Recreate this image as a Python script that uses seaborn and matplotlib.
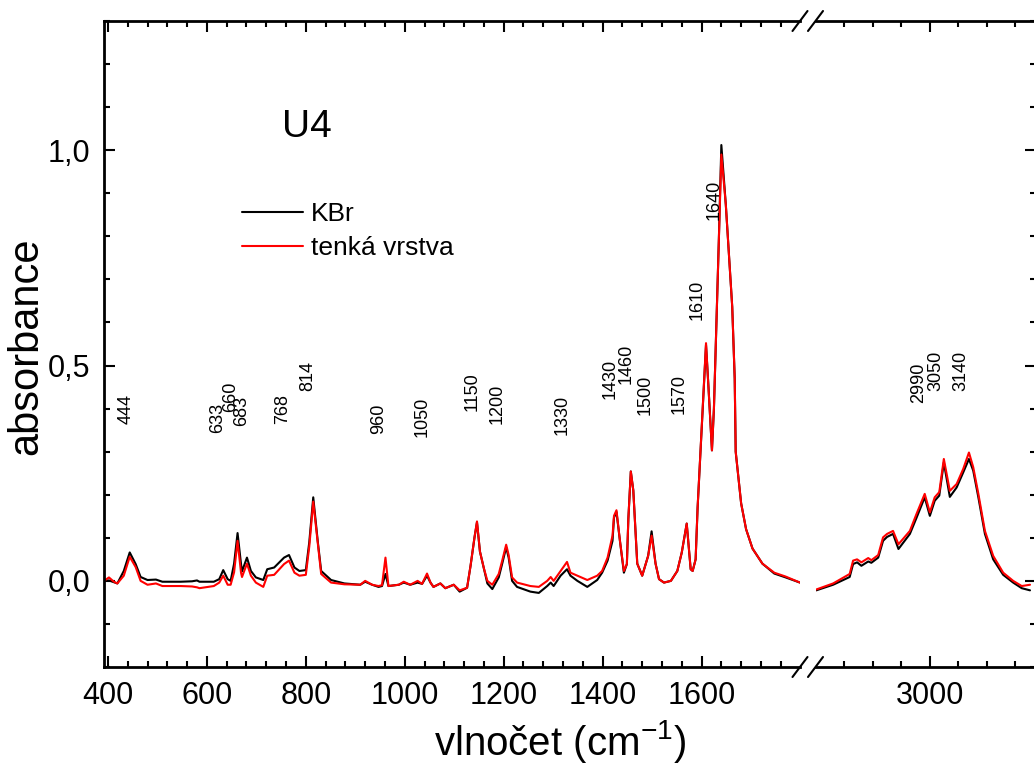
import numpy as np
import pandas as pd
import matplotlib.pyplot as plt
import seaborn as sns
from matplotlib.ticker import MultipleLocator, FuncFormatter

sns.set_style("ticks")
plt.rcParams["font.family"] = ["Liberation Sans", "DejaVu Sans"]
plt.rcParams["mathtext.fontset"] = "custom"
plt.rcParams["mathtext.rm"] = "Liberation Sans"
plt.rcParams["mathtext.default"] = "regular"
for key in ("text.color", "axes.labelcolor", "xtick.color", "ytick.color", "axes.edgecolor"):
    plt.rcParams[key] = "black"

# --- spektra, cast 400-1800 cm-1 ---
wn_left = [392, 402, 412, 419, 432, 444, 456, 466, 480, 497, 510, 547, 570, 580, 585,
           614, 625, 633, 642, 648, 655, 662, 669, 671, 681, 689, 699, 714, 722, 736,
           756, 766, 777, 787, 800, 807, 815, 824, 831, 851, 878, 910, 920, 934, 947,
           954, 961, 967, 988, 998, 1011, 1026, 1035, 1045, 1052, 1058, 1072, 1082, 1099, 1111,
           1126, 1133, 1141, 1146, 1152, 1160, 1167, 1177, 1190, 1197, 1205, 1210, 1217, 1227, 1254,
           1271, 1288, 1295, 1301, 1315, 1328, 1335, 1349, 1369, 1389, 1399, 1410, 1420, 1423, 1428,
           1435, 1443, 1449, 1452, 1457, 1462, 1470, 1480, 1492, 1499, 1507, 1514, 1524, 1538, 1551,
           1560, 1570, 1578, 1582, 1588, 1592, 1596, 1602, 1609, 1614, 1621, 1625, 1635, 1640, 1649,
           1662, 1667, 1669, 1680, 1690, 1703, 1723, 1747, 1770, 1799]
kbr_left = [0.000, 0.001, -0.003, -0.006, 0.023, 0.066, 0.039, 0.009, 0.002, 0.003, -0.002, -0.002, -0.001, 0.001, -0.002,
            -0.002, 0.004, 0.025, 0.004, 0.000, 0.040, 0.111, 0.039, 0.022, 0.054, 0.023, 0.008, 0.002, 0.027, 0.031,
            0.054, 0.060, 0.031, 0.023, 0.025, 0.090, 0.194, 0.093, 0.023, 0.002, -0.006, -0.009, -0.002, -0.009, -0.014,
            -0.012, 0.016, -0.012, -0.009, -0.004, -0.009, -0.004, -0.007, 0.012, -0.004, -0.014, -0.006, -0.017, -0.009, -0.025,
            -0.016, 0.035, 0.101, 0.136, 0.068, 0.029, -0.006, -0.019, 0.008, 0.040, 0.078, 0.054, 0.000, -0.014, -0.025,
            -0.028, -0.012, -0.004, -0.012, 0.012, 0.027, 0.012, 0.000, -0.014, 0.002, 0.019, 0.047, 0.093, 0.147, 0.160,
            0.093, 0.019, 0.039, 0.144, 0.254, 0.210, 0.040, 0.012, 0.058, 0.115, 0.040, 0.004, -0.004, 0.000, 0.023,
            0.066, 0.133, 0.027, 0.023, 0.050, 0.170, 0.260, 0.390, 0.548, 0.450, 0.303, 0.400, 0.794, 1.012, 0.874,
            0.636, 0.470, 0.300, 0.180, 0.120, 0.075, 0.040, 0.017, 0.008, -0.004]
film_left = [0.000, 0.008, -0.002, -0.006, 0.012, 0.056, 0.032, 0.000, -0.009, -0.006, -0.012, -0.012, -0.013, -0.015, -0.017,
             -0.012, -0.004, 0.012, -0.009, -0.009, 0.020, 0.093, 0.019, 0.009, 0.040, 0.012, -0.004, -0.014, 0.012, 0.014,
             0.039, 0.047, 0.019, 0.012, 0.014, 0.080, 0.184, 0.090, 0.016, -0.004, -0.008, -0.009, 0.000, -0.009, -0.012,
             -0.010, 0.054, -0.012, -0.009, -0.002, -0.009, 0.000, -0.007, 0.017, -0.004, -0.014, -0.006, -0.017, -0.009, -0.022,
             -0.016, 0.035, 0.101, 0.138, 0.068, 0.029, 0.000, -0.009, 0.016, 0.047, 0.084, 0.060, 0.008, -0.004, -0.012,
             -0.014, 0.000, 0.009, 0.000, 0.023, 0.044, 0.019, 0.012, 0.002, 0.012, 0.023, 0.054, 0.105, 0.151, 0.164,
             0.093, 0.023, 0.039, 0.144, 0.254, 0.210, 0.040, 0.012, 0.058, 0.105, 0.040, 0.004, -0.004, 0.000, 0.023,
             0.066, 0.133, 0.027, 0.023, 0.050, 0.170, 0.260, 0.390, 0.552, 0.450, 0.303, 0.400, 0.794, 0.990, 0.874,
             0.636, 0.470, 0.300, 0.180, 0.120, 0.075, 0.040, 0.019, 0.010, -0.004]

# --- spektra, cast 2600-3370 cm-1 ---
wn_right = [2602, 2661, 2719, 2731, 2745, 2760, 2784, 2795, 2819, 2836, 2850, 2871, 2890, 2930, 2953,
            2982, 3000, 3017, 3033, 3049, 3070, 3094, 3117, 3137, 3152, 3170, 3193, 3222, 3257, 3292,
            3322, 3351]
kbr_right = [-0.022, -0.009, 0.009, 0.039, 0.043, 0.035, 0.045, 0.042, 0.054, 0.093, 0.102, 0.109, 0.074, 0.109, 0.146,
             0.194, 0.151, 0.186, 0.198, 0.275, 0.195, 0.217, 0.252, 0.283, 0.256, 0.194, 0.109, 0.050, 0.014, -0.004,
             -0.017, -0.022]
film_right = [-0.020, -0.006, 0.016, 0.047, 0.050, 0.043, 0.053, 0.048, 0.060, 0.101, 0.109, 0.116, 0.085, 0.116, 0.155,
              0.202, 0.159, 0.194, 0.206, 0.283, 0.209, 0.225, 0.260, 0.298, 0.264, 0.202, 0.116, 0.058, 0.019, 0.000,
              -0.012, -0.009]

# --- popisky pasu ---
peaks_left = ["444", "633", "660", "683", "768", "814", "960", "1050", "1150", "1200",
              "1330", "1430", "1460", "1500", "1570", "1610", "1640"]
peak_x_left = [436, 621, 647, 671, 754, 803, 947, 1036, 1137, 1187,
               1318, 1416, 1447, 1485, 1554, 1592, 1625]
peak_y_left = [0.365, 0.344, 0.391, 0.360, 0.365, 0.442, 0.342, 0.333, 0.395, 0.365,
               0.338, 0.423, 0.456, 0.384, 0.388, 0.605, 0.837]
peaks_right = ["2990", "3050", "3140"]
peak_x_right = [2961, 3021, 3110]
peak_y_right = [0.414, 0.440, 0.442]

series = ["KBr", "tenká vrstva"]
colors = {"KBr": "black", "tenká vrstva": "red"}


def long_df(wn, kbr, film):
    return pd.DataFrame({
        "wn": list(wn) + list(wn),
        "A": list(kbr) + list(film),
        "vzorek": [series[0]] * len(wn) + [series[1]] * len(wn),
    })


df_left = long_df(wn_left, kbr_left, film_left)
df_right = long_df(wn_right, kbr_right, film_right)

W, H = 1034, 765
fig = plt.figure(figsize=(W / 100, H / 100), dpi=100)
ax1 = fig.add_axes([104 / W, 98 / H, 696 / W, 646 / H])
ax2 = fig.add_axes([816 / W, 98 / H, 220 / W, 646 / H])

sns.lineplot(data=df_left, x="wn", y="A", hue="vzorek", hue_order=series, palette=colors,
             estimator=None, sort=False, lw=1.5, ax=ax1, legend=True)
sns.lineplot(data=df_right, x="wn", y="A", hue="vzorek", hue_order=series, palette=colors,
             estimator=None, sort=False, lw=1.5, ax=ax2, legend=False)

comma = FuncFormatter(lambda v, p: f"{abs(v) if abs(v) < 1e-9 else v:.1f}".replace(".", ","))

for ax in (ax1, ax2):
    ax.set_ylim(-0.2, 1.3)
    ax.yaxis.set_major_locator(MultipleLocator(0.5))
    ax.yaxis.set_minor_locator(MultipleLocator(0.1))
    ax.set_xlabel("")
    ax.set_ylabel("")
    for s in ax.spines.values():
        s.set_linewidth(2.0)
        s.set_color("black")
    ax.tick_params(which="both", direction="in", top=True, width=1.5, labelsize=22, pad=10,
                   color="black", labelcolor="black")
    ax.tick_params(which="major", length=8)
    ax.tick_params(which="minor", length=4.5)

ax1.set_xlim(392, 1799)
ax1.xaxis.set_major_locator(MultipleLocator(200))
ax1.xaxis.set_minor_locator(MultipleLocator(40))
ax1.yaxis.set_major_formatter(comma)
ax1.spines["right"].set_visible(False)
ax1.tick_params(axis="y", which="both", right=False)

ax2.set_xlim(2601, 3372)
ax2.xaxis.set_major_locator(MultipleLocator(500))
ax2.xaxis.set_minor_locator(MultipleLocator(100))
ax2.spines["left"].set_visible(False)
ax2.tick_params(axis="y", which="both", left=False, right=True, labelleft=False)

# znacky preruseni osy
dx, dy = 7.5, 10
for ax, xe in ((ax1, 800), (ax2, 815.5)):
    for ye in (98, 744):
        ax.plot([(xe - dx) / W, (xe + dx) / W], [(ye - dy) / H, (ye + dy) / H],
                transform=fig.transFigure, color="black", lw=1.5, clip_on=False)

for lab, x, y in zip(peaks_left, peak_x_left, peak_y_left):
    ax1.text(x, y, lab, rotation=90, ha="center", va="bottom", fontsize=13)
for lab, x, y in zip(peaks_right, peak_x_right, peak_y_right):
    ax2.text(x, y, lab, rotation=90, ha="center", va="bottom", fontsize=13)

ax1.text(803, 1.030, "U4", ha="center", va="baseline", fontsize=28)

sns.move_legend(ax1, loc="upper left", bbox_to_anchor=(242 / W, 1 - 202 / H),
                bbox_transform=fig.transFigure, title=None, frameon=False, fontsize=19,
                handlelength=2.3, handletextpad=0.3, labelspacing=0.38, borderpad=0,
                borderaxespad=0)
for h in ax1.get_legend().legend_handles:
    h.set_linewidth(1.5)

fig.text(26 / W, 1 - 346.5 / H, "absorbance", rotation=90, ha="center", va="center", fontsize=30)
fig.text(560 / W, 10 / H, "vlnočet (cm$^{-1}$)", ha="center", va="baseline", fontsize=29)

fig.savefig("out.png", dpi=100)
